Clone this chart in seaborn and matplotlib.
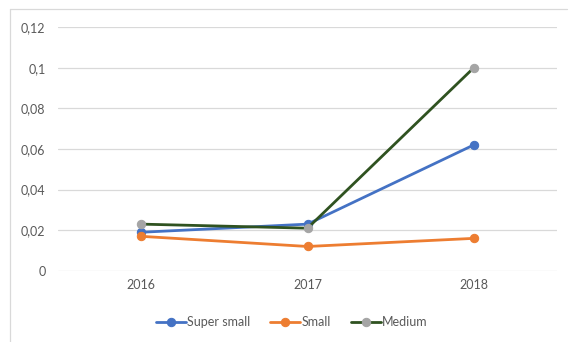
import matplotlib
matplotlib.use("Agg")
import matplotlib.pyplot as plt
import seaborn as sns
import pandas as pd
from matplotlib.lines import Line2D

years = ["2016", "2017", "2018"]
super_small = [0.019, 0.023, 0.062]
small = [0.017, 0.012, 0.016]
medium = [0.023, 0.021, 0.100]
yticks = [0, 0.02, 0.04, 0.06, 0.08, 0.10, 0.12]
ytick_labels = ["0", "0,02", "0,04", "0,06", "0,08", "0,1", "0,12"]

sns.set_theme(style="white")
plt.rcParams['font.family'] = ['Lato', 'DejaVu Sans']
text_color = "#595959"

fig = plt.figure(figsize=(5.69, 3.42), dpi=100)
ax = fig.add_axes([0.102, 0.208, 0.877, 0.713])

series = [
    ("Super small", super_small, "#4472C4", "#4472C4"),
    ("Small", small, "#ED7D31", "#ED7D31"),
    ("Medium", medium, "#2F5220", "#A5A5A5"),
]

for name, vals, lc, mc in series:
    df = pd.DataFrame({"x": range(len(years)), "y": vals})
    sns.lineplot(data=df, x="x", y="y", ax=ax, color=lc, linewidth=2.0,
                 marker="o", markersize=6, markerfacecolor=mc,
                 markeredgecolor=mc, label=name, legend=False)

ax.set_xlim(-0.5, 2.5)
ax.set_ylim(0, 0.12)
ax.set_xticks(range(len(years)))
ax.set_xticklabels(years)
ax.set_yticks(yticks)
ax.set_yticklabels(ytick_labels)
ax.set_xlabel("")
ax.set_ylabel("")
ax.tick_params(axis="both", length=0, labelsize=9, colors=text_color)
ax.tick_params(axis="y", pad=9)
ax.tick_params(axis="x", pad=6)
ax.grid(axis="y", color="#D9D9D9", linewidth=0.9)
ax.set_axisbelow(True)
for s in ax.spines.values():
    s.set_visible(False)

handles, labels = ax.get_legend_handles_labels()
leg = fig.legend(handles, labels, loc="center", bbox_to_anchor=(0.513, 0.058),
                 ncol=3, frameon=False, fontsize=9, handlelength=2.4,
                 handletextpad=0.1, columnspacing=1.6)
for t in leg.get_texts():
    t.set_color(text_color)

# chart frame (left and top edges)
fig.add_artist(Line2D([10/569, 10/569], [0, 1 - 9/342], transform=fig.transFigure,
                      color="#D9D9D9", linewidth=0.9))
fig.add_artist(Line2D([10/569, 567/569], [1 - 9/342, 1 - 9/342], transform=fig.transFigure,
                      color="#D9D9D9", linewidth=0.9))

fig.savefig("out.png", dpi=100, facecolor="white")
